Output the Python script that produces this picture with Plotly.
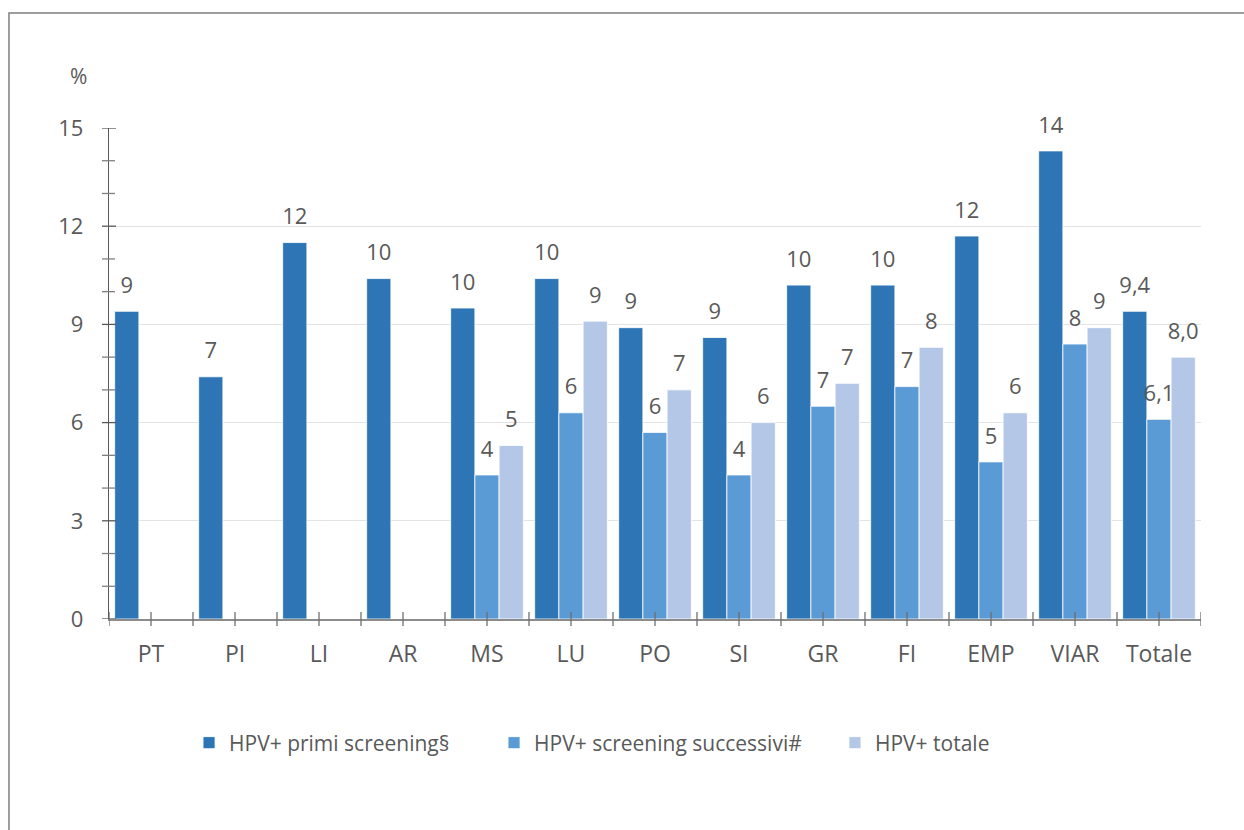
from decimal import Decimal, ROUND_HALF_UP

import plotly.graph_objects as go

# Programmi / aziende e positività HPV (%)
categorie = ["PT", "PI", "LI", "AR", "MS", "LU", "PO", "SI", "GR", "FI", "EMP", "VIAR", "Totale"]
primi_screening = [9.4, 7.4, 11.5, 10.4, 9.5, 10.4, 8.9, 8.6, 10.2, 10.2, 11.7, 14.3, 9.4]
screening_successivi = [None, None, None, None, 4.4, 6.3, 5.7, 4.4, 6.5, 7.1, 4.8, 8.4, 6.1]
totale = [None, None, None, None, 5.3, 9.1, 7.0, 6.0, 7.2, 8.3, 6.3, 8.9, 8.0]

nomi_serie = ["HPV+ primi screening§", "HPV+ screening successivi#", "HPV+ totale"]
colori = ["#2E75B6", "#5B9BD5", "#B4C7E7"]

y_tick_valori = [0, 3, 6, 9, 12, 15]
y_max = 15

TESTO = "#595959"
FONT = "'Open Sans', Lato, sans-serif"

PLOT_W, PLOT_H = 1092, 491   # plot area in px
TICK_PX = 7                  # half-length of the crossing tick marks
LEGEND_X = [0.0733, 0.3526, 0.6648]   # one legend box per series, equal gaps between entries


def etichetta(valore, categoria):
    """Integer labels for single programmes, one decimal (comma) for the total."""
    if valore is None:
        return ""
    d = Decimal(str(valore))
    if categoria == "Totale":
        return str(d.quantize(Decimal("0.1"), rounding=ROUND_HALF_UP)).replace(".", ",")
    return str(d.quantize(Decimal("1"), rounding=ROUND_HALF_UP))


fig = go.Figure()

legend_ids = ["legend", "legend2", "legend3"]
serie = [primi_screening, screening_successivi, totale]
for i, (nome, valori, colore) in enumerate(zip(nomi_serie, serie, colori)):
    fig.add_trace(go.Bar(
        x=categorie, y=valori, name=nome,
        marker=dict(color=colore, line=dict(color="white", width=0.8)),
        offsetgroup=str(i), hoverinfo="x+y", legend=legend_ids[i],
    ))

# value labels above each bar, grouped like the bars
for i, valori in enumerate(serie):
    fig.add_trace(go.Scatter(
        x=categorie, y=valori,
        text=[etichetta(v, c) for v, c in zip(valori, categorie)],
        mode="markers+text", textposition="top center",
        marker=dict(size=19, color="rgba(0,0,0,0)"),
        textfont=dict(family=FONT, size=22, color=TESTO),
        offsetgroup=str(i), showlegend=False, hoverinfo="skip", cliponaxis=False,
    ))

n = len(categorie)

# tick marks crossing the axes (category boundaries and centres on x, every unit on y)
tick_shapes = []
dy = TICK_PX / PLOT_H
for k in range(2 * n + 1):
    pos = -0.5 + 0.5 * k
    tick_shapes.append(dict(
        type="line", xref="x", yref="y domain", x0=pos, x1=pos, y0=-dy, y1=dy,
        line=dict(color="#6f6f6f", width=1.3), layer="above"))
dx = TICK_PX / PLOT_W
for v in range(0, y_max + 1):
    major = v in y_tick_valori
    tick_shapes.append(dict(
        type="line", xref="x domain", yref="y", x0=-dx, x1=dx * (1 if major else 0.85), y0=v, y1=v,
        line=dict(color="#595959" if major else "#7f7f7f", width=1.3), layer="above"))

legend_style = dict(
    orientation="h", y=-0.2525, xanchor="left", yanchor="middle",
    font=dict(family=FONT, size=21, color=TESTO), itemwidth=30,
    bgcolor="rgba(0,0,0,0)",
)

fig.update_layout(
    width=1244, height=830,
    margin=dict(l=109, r=43, t=128, b=211),
    paper_bgcolor="white", plot_bgcolor="white",
    barmode="group", bargap=0.135, bargroupgap=0,
    scattermode="group", scattergap=0.135,
    font=dict(family=FONT, color=TESTO),
    showlegend=True,
    legend=dict(legend_style, x=LEGEND_X[0]),
    legend2=dict(legend_style, x=LEGEND_X[1]),
    legend3=dict(legend_style, x=LEGEND_X[2]),
    xaxis=dict(
        type="category", range=[-0.5, n - 0.5],
        showline=True, linecolor="#8c8c8c", linewidth=1.5,
        ticks="", tickfont=dict(family=FONT, size=23, color=TESTO),
        ticklabelstandoff=14, showgrid=False, zeroline=False,
    ),
    yaxis=dict(
        range=[0, y_max], tickvals=y_tick_valori,
        showline=True, linecolor="#595959", linewidth=1.3, ticks="",
        tickfont=dict(family=FONT, size=22, color=TESTO), ticklabelstandoff=20,
        showgrid=True, gridcolor="#e3e3e3", gridwidth=1, zeroline=False,
    ),
    annotations=[
        dict(text="%", xref="paper", yref="paper", x=-0.0275, y=1.106,
             showarrow=False, xanchor="center", yanchor="middle",
             font=dict(family=FONT, size=21, color=TESTO)),
    ],
    shapes=tick_shapes + [
        # chart frame (open on the right and bottom)
        dict(type="path", xref="paper", yref="paper",
             path="M 1.2,1.234 L -0.0916,1.234 L -0.0916,-0.6",
             line=dict(color="#7f7f7f", width=1.5)),
    ],
)

fig.write_html("out.html")
